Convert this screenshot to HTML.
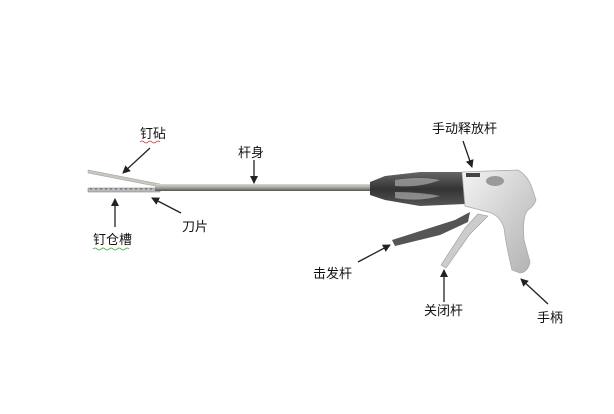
<!DOCTYPE html>
<html><head><meta charset="utf-8"><style>
body{margin:0;background:#fff;width:614px;height:409px;overflow:hidden}
text{font-family:"Liberation Sans","Noto Sans CJK SC",sans-serif;font-size:13px;fill:#111}
</style></head><body>
<svg width="614" height="409" viewBox="0 0 614 409">
<defs>
<marker id="a" markerWidth="8" markerHeight="8" refX="7" refY="4" orient="auto" markerUnits="userSpaceOnUse"><path d="M0,0 L8,4 L0,8z" fill="#222"/></marker>
<linearGradient id="sh" x1="0" y1="0" x2="0" y2="1"><stop offset="0" stop-color="#d8d8d0"/><stop offset="0.5" stop-color="#a8a89e"/><stop offset="1" stop-color="#555"/></linearGradient>
<linearGradient id="dk" x1="0" y1="0" x2="0" y2="1"><stop offset="0" stop-color="#666"/><stop offset="0.5" stop-color="#333"/><stop offset="1" stop-color="#555"/></linearGradient>
<linearGradient id="lt" x1="0" y1="0" x2="1" y2="1"><stop offset="0" stop-color="#f4f4f4"/><stop offset="1" stop-color="#b0b0b0"/></linearGradient>
</defs>
<path d="M88,170 L160,184 L160,187 L88,173z" fill="#c8c8c0" stroke="#999" stroke-width="0.5"/>
<rect x="88" y="188" width="72" height="4" fill="#bbb" stroke="#777" stroke-width="0.5"/>
<line x1="90" y1="189" x2="158" y2="189" stroke="#666" stroke-width="1" stroke-dasharray="2,3"/>
<rect x="155" y="184" width="220" height="7" fill="url(#sh)"/>
<path d="M370,182 L385,176 L420,172 L462,172 L465,204 L420,206 L385,200 L370,195z" fill="url(#dk)"/>
<path d="M395,180 Q420,176 440,180 Q420,188 395,186z M395,192 Q420,192 440,196 Q420,202 395,198z" fill="#aaa" opacity="0.7"/>
<path d="M462,172 L518,170 Q528,176 532,188 L536,200 Q534,206 528,210 Q522,216 524,240 L530,262 Q528,272 520,273 L512,270 Q506,245 504,228 Q500,215 488,212 L465,206z" fill="url(#lt)" stroke="#aaa" stroke-width="0.8"/>
<ellipse cx="495" cy="181" rx="9" ry="5" fill="#999"/>
<rect x="466" y="173" width="14" height="4" fill="#444"/>
<path d="M392,240 L455,220 L470,212 L468,222 L440,235 L395,246z" fill="#555"/>
<path d="M441,265 L465,228 L478,214 L488,216 L470,234 L446,268z" fill="#ccc" stroke="#999" stroke-width="0.6"/>
<g stroke="#222" stroke-width="1.3" fill="none" marker-end="url(#a)">
<line x1="150" y1="148" x2="123" y2="173"/>
<line x1="254" y1="160" x2="254" y2="183"/>
<line x1="463" y1="141" x2="472" y2="167"/>
<line x1="358" y1="262" x2="390" y2="245"/>
<line x1="444" y1="302" x2="444" y2="270"/>
<line x1="548" y1="304" x2="521" y2="279"/>
<line x1="181" y1="213" x2="152" y2="198"/>
<line x1="115" y1="227" x2="115" y2="199"/>
</g>
<text x="140" y="138">钉砧</text>
<text x="238" y="157">杆身</text>
<text x="432" y="133">手动释放杆</text>
<text x="313" y="278">击发杆</text>
<text x="424" y="315">关闭杆</text>
<text x="537" y="322">手柄</text>
<text x="182" y="231">刀片</text>
<text x="93" y="244">钉仓槽</text>
<path d="M140,142 q2,-2 4,0 t4,0 t4,0 t4,0 t4,0" stroke="#c33" fill="none" stroke-width="0.8"/>
<path d="M93,249 q2,-2 4,0 t4,0 t4,0 t4,0 t4,0 t4,0 t4,0 t4,0 t4,0" stroke="#3a3" fill="none" stroke-width="0.8"/>
</svg>
</body></html>
